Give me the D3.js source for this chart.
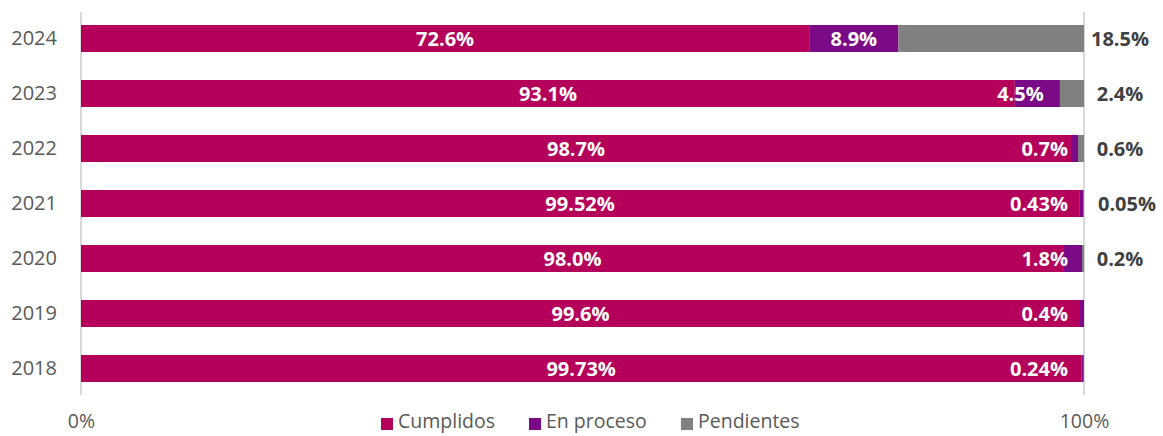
<!DOCTYPE html>
<html>
<head>
<meta charset="utf-8">
<script src="https://cdn.jsdelivr.net/npm/d3@7"></script>
<style>
  body { margin: 0; background: #fff; }
  svg { display: block; font-family: "Open Sans", sans-serif; }
</style>
</head>
<body>
<svg id="chart"></svg>
<script>
// Data (percent of total per year)
var years = ['2024', '2023', '2022', '2021', '2020', '2019', '2018'];
var cumplidos = [72.6, 93.1, 98.7, 99.52, 98.0, 99.6, 99.73];
var enProceso = [8.9, 4.5, 0.7, 0.43, 1.8, 0.4, 0.24];
var pendientes = [18.5, 2.4, 0.6, 0.05, 0.2, 0, 0];
var seriesNames = ['Cumplidos', 'En proceso', 'Pendientes'];
var xTickLabels = ['0%', '100%'];

var config = {
  width: 1163,
  height: 436,
  plotLeft: 81,
  plotRight: 1084,
  plotTop: 11,
  plotBottom: 396,
  colors: ['#B4005A', '#7A0A86', '#808080'],
  gridColor: '#D9D9D9',
  textColor: '#595959',
  outsideLabelColor: '#404040',
  labelFontSize: 20,
  axisFontSize: 19.5,
  bottomRowY: 422,
}

var svg = d3.select('#chart')
  .attr('width', config.width)
  .attr('height', config.height);

var x = d3.scaleLinear()
  .domain([0, 100])
  .range([config.plotLeft, config.plotRight]);

var y = d3.scaleBand()
  .domain(years)
  .range([config.plotTop, config.plotBottom])
  .paddingInner(0.509)
  .paddingOuter(0.2545);

// Build the stack table from the arrays
var table = years.map(function(yr, i) {
  return { year: yr, 'Cumplidos': cumplidos[i], 'En proceso': enProceso[i], 'Pendientes': pendientes[i] };
});
var stacked = d3.stack().keys(seriesNames)(table);

// Gridlines at 0% and 100%
svg.append('g')
  .selectAll('line')
  .data([0, 100])
  .join('line')
  .attr('x1', function(d) { return x(d); })
  .attr('x2', function(d) { return x(d); })
  .attr('y1', config.plotTop + 1)
  .attr('y2', config.plotBottom - 1)
  .attr('stroke', config.gridColor)
  .attr('stroke-width', 2);

// Bars
svg.append('g')
  .selectAll('g')
  .data(stacked)
  .join('g')
  .attr('fill', function(d, i) { return config.colors[i]; })
  .selectAll('rect')
  .data(function(d) { return d; })
  .join('rect')
  .attr('x', function(d) { return x(d[0]); })
  .attr('y', function(d) { return y(d.data.year); })
  .attr('width', function(d) { return Math.max(0, x(d[1]) - x(d[0])); })
  .attr('height', y.bandwidth());

function fmt(v) {
  return (v % 1 === 0 ? v.toFixed(1) : String(v)) + '%';
}

var labels = svg.append('g')
  .attr('font-size', config.labelFontSize + 'px')
  .attr('font-weight', 'bold');

// Cumplidos labels, centered in the segment
labels.selectAll('.lab-c')
  .data(stacked[0])
  .join('text')
  .attr('class', 'lab-c')
  .attr('x', function(d) { return (x(d[0]) + x(d[1])) / 2; })
  .attr('y', function(d) { return y(d.data.year) + y.bandwidth() / 2; })
  .attr('dy', '.36em')
  .attr('text-anchor', 'middle')
  .attr('fill', '#fff')
  .text(function(d) { return fmt(d.data['Cumplidos']); });

// En proceso labels: centered when the segment is wide, otherwise pushed left of the bar end
labels.selectAll('.lab-p')
  .data(stacked[1])
  .join('text')
  .attr('class', 'lab-p')
  .attr('x', function(d) {
    var w = x(d[1]) - x(d[0]);
    if (w > 60) return (x(d[0]) + x(d[1])) / 2;
    if (w > 30) return x(d[0]) + 29;
    return x(100) - 16;
  })
  .attr('y', function(d) { return y(d.data.year) + y.bandwidth() / 2; })
  .attr('dy', '.36em')
  .attr('text-anchor', function(d) { return (x(d[1]) - x(d[0]) > 60) ? 'middle' : 'end'; })
  .attr('fill', '#fff')
  .text(function(d) { return fmt(d.data['En proceso']); });

// Pendientes labels, outside the bar on the right
labels.selectAll('.lab-n')
  .data(stacked[2].filter(function(d) { return d.data['Pendientes'] > 0; }))
  .join('text')
  .attr('class', 'lab-n')
  .attr('x', function(d) { return x(100) + (d.data['Pendientes'] < 0.1 ? 43 : 36); })
  .attr('y', function(d) { return y(d.data.year) + y.bandwidth() / 2; })
  .attr('dy', '.36em')
  .attr('text-anchor', 'middle')
  .attr('fill', config.outsideLabelColor)
  .text(function(d) { return fmt(d.data['Pendientes']); });

// Year axis
var yAxis = svg.append('g')
  .attr('transform', 'translate(' + (config.plotLeft - 24) + ',0)')
  .call(d3.axisLeft(y).tickSize(0).tickPadding(0));
yAxis.select('.domain').remove();
yAxis.selectAll('text')
  .attr('font-family', '"Open Sans", sans-serif')
  .attr('font-size', '20px')
  .attr('fill', config.textColor);

// Bottom axis with only 0% and 100%
var xAxis = svg.append('g')
  .attr('transform', 'translate(0,' + config.bottomRowY + ')')
  .call(d3.axisBottom(x).tickValues([0, 100]).tickSize(0).tickPadding(0)
    .tickFormat(function(d, i) { return xTickLabels[i]; }));
xAxis.select('.domain').remove();
xAxis.selectAll('text')
  .attr('font-family', '"Open Sans", sans-serif')
  .attr('font-size', config.axisFontSize + 'px')
  .attr('fill', config.textColor)
  .attr('dy', '.33em');

// Legend
var legendX = [381, 529, 681];
var legend = svg.append('g')
  .selectAll('g')
  .data(seriesNames)
  .join('g')
  .attr('transform', function(d, i) { return 'translate(' + legendX[i] + ',' + config.bottomRowY + ')'; });
legend.append('rect')
  .attr('x', 0)
  .attr('y', -4)
  .attr('width', 12)
  .attr('height', 12)
  .attr('fill', function(d, i) { return config.colors[i]; });
legend.append('text')
  .attr('x', 17)
  .attr('dy', '.33em')
  .attr('font-size', config.axisFontSize + 'px')
  .attr('fill', config.textColor)
  .text(function(d) { return d; });
</script>
</body>
</html>
